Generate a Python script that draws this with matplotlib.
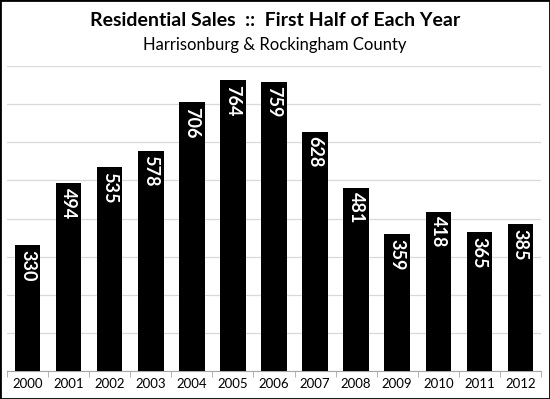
import matplotlib.pyplot as plt
import numpy as np
from matplotlib.patches import Rectangle

years = ['2000', '2001', '2002', '2003', '2004', '2005', '2006',
         '2007', '2008', '2009', '2010', '2011', '2012']
sales = [330, 494, 535, 578, 706, 764, 759, 628, 481, 359, 418, 365, 385]

plt.rcParams['font.family'] = ['Lato', 'DejaVu Sans']

fig = plt.figure(figsize=(5.5, 3.99), dpi=100)
ax = fig.add_axes([7/550, 28/399, 534/550, 305/399])

x = np.arange(len(years))
ax.bar(x, sales, width=0.62, color='black', zorder=3)

# value labels inside the top of each bar
for xi, v in zip(x, sales):
    ax.annotate(str(v), (xi, v), xytext=(0, -3.5), textcoords='offset points',
                rotation=270, ha='center', va='top', color='white',
                fontsize=13, fontweight='bold', zorder=4)

ax.set_xlim(-0.5, len(years) - 0.5)
ax.set_ylim(0, 800)
ax.set_yticks(np.arange(0, 801, 100))
ax.yaxis.grid(True, color='#d9d9d9', linewidth=0.9, zorder=0)
ax.tick_params(axis='y', left=False, labelleft=False)

ax.set_xticks(x)
ax.set_xticklabels(years, fontsize=9.5)
ax.set_xticks(np.arange(-0.5, len(years)), minor=True)
ax.tick_params(axis='x', which='major', length=0, pad=5)
ax.tick_params(axis='x', which='minor', length=4, color='#a6a6a6')

for s in ['top', 'right', 'left']:
    ax.spines[s].set_visible(False)
ax.spines['bottom'].set_color('#a6a6a6')

fig.text(0.5, 1 - 20/399, 'Residential Sales  ::  First Half of Each Year',
         ha='center', va='center', fontsize=14, fontweight='bold')
fig.text(0.5, 1 - 45/399, 'Harrisonburg & Rockingham County',
         ha='center', va='center', fontsize=12)

fig.patches.append(Rectangle((0, 0), 1, 1, transform=fig.transFigure,
                             fill=False, edgecolor='black', linewidth=2))

fig.savefig('out.png', dpi=100)
